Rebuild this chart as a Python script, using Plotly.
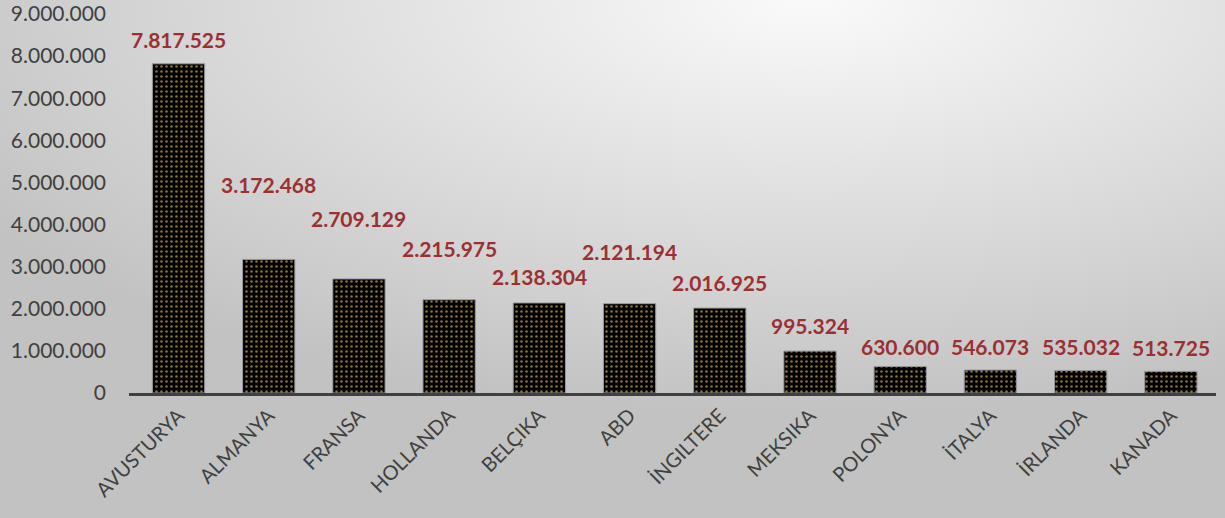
import plotly.graph_objects as go

# data
COUNTRIES = ["AVUSTURYA", "ALMANYA", "FRANSA", "HOLLANDA", "BELÇIKA", "ABD",
             "İNGILTERE", "MEKSIKA", "POLONYA", "İTALYA", "İRLANDA", "KANADA"]
VALUES = [7817525, 3172468, 2709129, 2215975, 2138304, 2121194,
          2016925, 995324, 630600, 546073, 535032, 513725]
Y_TICKS = [0, 1000000, 2000000, 3000000, 4000000, 5000000,
           6000000, 7000000, 8000000, 9000000]

# styling
FONT = "Lato, 'Open Sans', sans-serif"
AXIS_GREY = "#404040"
LABEL_RED = "#9b3032"
# manual label offsets above each bar (px), as placed in the original sheet
LABEL_SHIFT = [24, 75, 60, 51, 26, 52, 26, 26, 20, 24, 24, 24]

BG_SVG = (
    "data:image/svg+xml;utf8,"
    "<svg xmlns='http://www.w3.org/2000/svg' width='1225' height='518' preserveAspectRatio='none'>"
    "<defs><radialGradient id='g' cx='0.66' cy='0' r='0.8' gradientUnits='objectBoundingBox'>"
    "<stop offset='0' stop-color='%23fafafa'/><stop offset='1' stop-color='%23c2c2c2'/>"
    "</radialGradient></defs><rect width='1225' height='518' fill='url(%23g)'/></svg>"
)


def fmt(v):
    return f"{v:,}".replace(",", ".")


fig = go.Figure()
fig.add_trace(go.Bar(
    x=COUNTRIES, y=VALUES,
    marker=dict(
        color="black",
        line=dict(color="#9a9a9a", width=1),
        pattern=dict(shape=".", fgcolor="#8c7434", bgcolor="black",
                     size=5, solidity=0.2, fillmode="replace"),
    ),
    hoverinfo="x+y",
))

for c, v, dy in zip(COUNTRIES, VALUES, LABEL_SHIFT):
    fig.add_annotation(x=c, y=v, text="<b>" + fmt(v) + "</b>", showarrow=False,
                       yanchor="middle", yshift=dy,
                       font=dict(family=FONT, size=21, color=LABEL_RED))

fig.update_layout(
    width=1225, height=518,
    margin=dict(l=129, r=9, t=14, b=125),
    paper_bgcolor="#dcdcdc", plot_bgcolor="rgba(0,0,0,0)",
    separators=",.",
    bargap=0.42, showlegend=False,
    font=dict(family=FONT, size=21, color=AXIS_GREY),
    images=[dict(source=BG_SVG, xref="paper", yref="paper", x=-129 / 1087, y=1 + 14 / 379,
                 sizex=1225 / 1087, sizey=518 / 379, xanchor="left", yanchor="top",
                 sizing="stretch", layer="below")],
)
fig.update_xaxes(showline=True, linecolor=AXIS_GREY, linewidth=3, tickangle=-45,
                 showgrid=False, ticks="", automargin=False,
                 tickfont=dict(size=20, color=AXIS_GREY))
fig.update_yaxes(range=[0, 9000000], tickvals=Y_TICKS, ticktext=[fmt(t) for t in Y_TICKS],
                 showgrid=False, zeroline=False, showline=False, ticks="", automargin=False,
                 ticklabelstandoff=22, tickfont=dict(size=21, color=AXIS_GREY))

fig.write_html("out.html", config={"displayModeBar": False},
               post_script="document.body.style.margin='0';")
